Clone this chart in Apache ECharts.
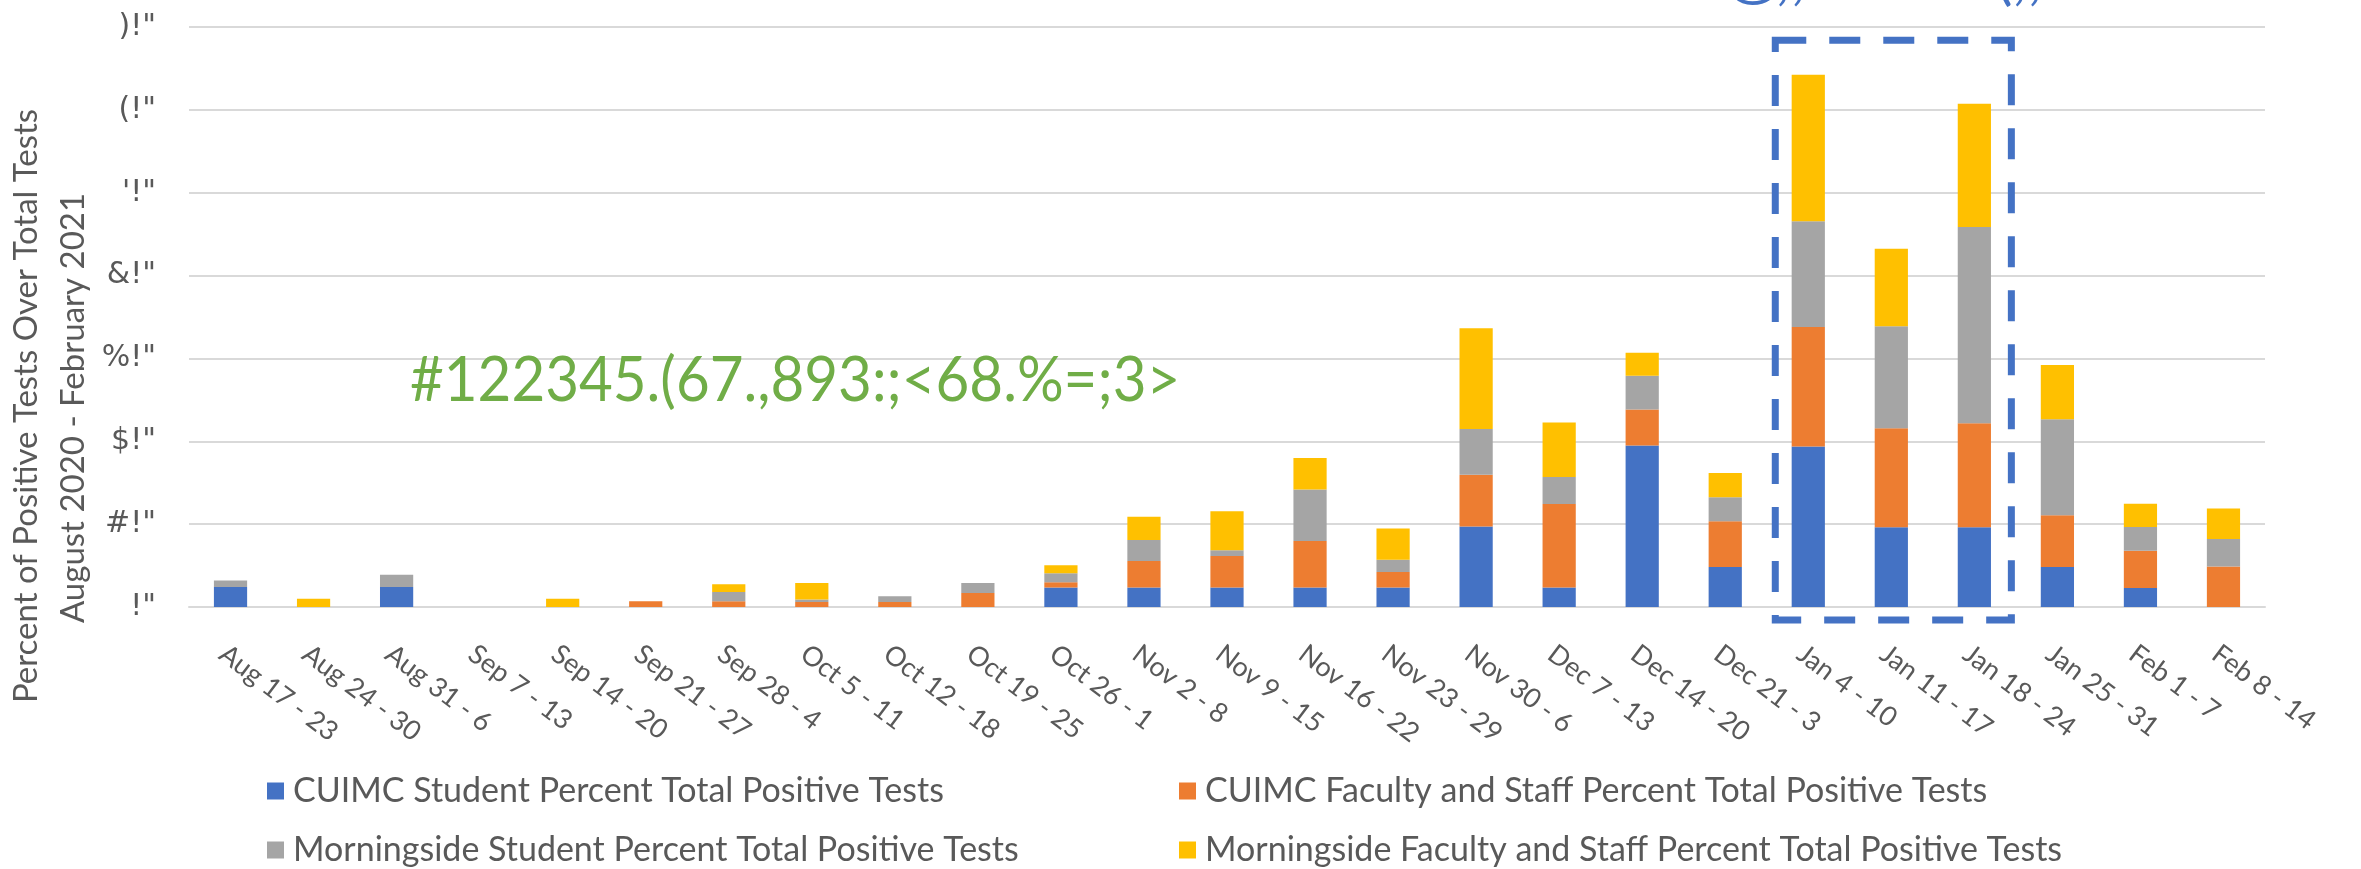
<!DOCTYPE html>
<html>
<head>
<meta charset="utf-8">
<script src="https://cdn.jsdelivr.net/npm/echarts/dist/echarts.min.js"></script>
<style>
  html, body { margin: 0; padding: 0; background: #fff; }
  #container { width: 2361px; height: 869px; }
</style>
</head>
<body>
<div id="container"></div>
<script>
var categories = ['Aug 17 - 23', 'Aug 24 - 30', 'Aug 31 - 6', 'Sep 7 - 13', 'Sep 14 - 20', 'Sep 21 - 27',
  'Sep 28 - 4', 'Oct 5 - 11', 'Oct 12 - 18', 'Oct 19 - 25', 'Oct 26 - 1', 'Nov 2 - 8', 'Nov 9 - 15',
  'Nov 16 - 22', 'Nov 23 - 29', 'Nov 30 - 6', 'Dec 7 - 13', 'Dec 14 - 20', 'Dec 21 - 3', 'Jan 4 - 10',
  'Jan 11 - 17', 'Jan 18 - 24', 'Jan 25 - 31', 'Feb 1 - 7', 'Feb 8 - 14']

var seriesNames = ['CUIMC Student Percent Total Positive Tests', 'CUIMC Faculty and Staff Percent Total Positive Tests',
  'Morningside Student Percent Total Positive Tests', 'Morningside Faculty and Staff Percent Total Positive Tests']

var cuimcStudent = [2.4, 0, 2.4, 0, 0, 0, 0, 0, 0, 0, 2.34, 2.34, 2.34, 2.34, 2.34, 9.72, 2.34, 19.48, 4.83,
  19.36, 9.61, 9.61, 4.83, 2.3, 0]
var cuimcStaff = [0, 0, 0, 0, 0, 0.69, 0.69, 0.6, 0.6, 1.7, 0.64, 3.22, 3.83, 5.64, 1.89, 6.25, 10.08, 4.35, 5.51,
  14.43, 11.97, 12.56, 6.25, 4.5, 4.9]
var msStudent = [0.81, 0, 1.49, 0, 0, 0, 1.12, 0.3, 0.7, 1.2, 1.09, 2.54, 0.68, 6.21, 1.46, 5.52, 3.27, 4.07, 2.91,
  12.76, 12.31, 23.69, 11.58, 2.85, 3.3]
var msStaff = [0, 1.0, 0, 0, 1.0, 0, 0.93, 2.0, 0, 0, 0.97, 2.79, 4.72, 3.79, 3.79, 12.14, 6.57, 2.79, 2.91,
  17.69, 9.36, 14.88, 6.55, 2.8, 3.7]

var yTickLabels = [' !"', '#!"', '$!"', '%!"', '&!"', '\'!"', '(!"', ')!"']

var colors = ['#4472C4', '#ED7D31', '#A5A5A5', '#FFC000']
var textColor = '#595959'
var font = 'Lato, "Open Sans", sans-serif'

var dom = document.getElementById('container')
var myChart = echarts.init(dom)

var legendPos = [[262, 769], [1174, 769], [262, 828], [1174, 828]]

var option = {
  backgroundColor: '#fff',
  animation: false,
  color: colors,
  grid: {
    left: 189,
    right: 96,
    top: 27,
    bottom: 262
  },
  legend: seriesNames.map(function(name, i) {
    return {
      data: [name],
      left: legendPos[i][0],
      top: legendPos[i][1],
      icon: 'rect',
      itemWidth: 17,
      itemHeight: 17,
      itemGap: 0,
      selectedMode: false,
      textStyle: {
        color: textColor,
        fontFamily: font,
        fontSize: 34,
        padding: [0, 0, 0, 4]
      }
    }
  }),
  xAxis: {
    type: 'category',
    data: categories,
    axisLine: { lineStyle: { color: '#D9D9D9', width: 2 } },
    axisTick: { show: false },
    axisLabel: {
      interval: 0,
      rotate: -37,
      margin: 33,
      verticalAlign: 'top',
      color: textColor,
      fontFamily: font,
      fontSize: 27
    }
  },
  yAxis: {
    type: 'value',
    min: 0,
    max: 70,
    interval: 10,
    axisLine: { show: false },
    axisTick: { show: false },
    splitLine: { lineStyle: { color: '#D9D9D9', width: 2 } },
    axisLabel: {
      margin: 33,
      color: textColor,
      fontFamily: '"DejaVu Sans", sans-serif',
      fontSize: 30,
      formatter: function(v) {
        return yTickLabels[Math.round(v / 10)]
      }
    }
  },
  series: [cuimcStudent, cuimcStaff, msStudent, msStaff].map(function(data, i) {
    return {
      name: seriesNames[i],
      type: 'bar',
      stack: 'total',
      barCategoryGap: '60%',
      data: data
    }
  })
}

myChart.setOption(option)

// annotations: axis title, green note, clipped blue note, dashed box
var xLeft = myChart.convertToPixel({ xAxisIndex: 0 }, 'Jan 4 - 10') - 33
var xRight = myChart.convertToPixel({ xAxisIndex: 0 }, 'Jan 18 - 24') + 37
var yTop = myChart.convertToPixel({ yAxisIndex: 0 }, 68.4)
var yBottom = myChart.convertToPixel({ yAxisIndex: 0 }, 0) + 13

myChart.setOption({
  graphic: [{
    type: 'text',
    x: 26,
    y: 406,
    rotation: Math.PI / 2,
    style: {
      text: 'Percent of Positive Tests Over Total Tests',
      fill: textColor,
      fontFamily: font,
      fontSize: 33,
      align: 'center',
      verticalAlign: 'middle'
    }
  }, {
    type: 'text',
    x: 73,
    y: 408,
    rotation: Math.PI / 2,
    style: {
      text: 'August 2020 - February 2021',
      fill: textColor,
      fontFamily: font,
      fontSize: 33,
      align: 'center',
      verticalAlign: 'middle'
    }
  }, {
    type: 'text',
    x: 410,
    y: 412,
    scaleX: 0.94,
    style: {
      text: '#122345.(67.,893:;<68.%=;3>',
      fill: '#70AD47',
      fontFamily: font,
      fontSize: 62,
      align: 'left',
      verticalAlign: 'bottom'
    }
  }, {
    type: 'text',
    x: 1688,
    y: 9,
    style: {
      text: '#@,;8AB<8(,;0=',
      fill: '#4472C4',
      fontFamily: font,
      fontSize: 62,
      align: 'left',
      verticalAlign: 'bottom'
    }
  }, {
    type: 'rect',
    shape: {
      x: xLeft,
      y: yTop,
      width: xRight - xLeft,
      height: yBottom - yTop
    },
    style: {
      fill: 'none',
      stroke: '#4472C4',
      lineWidth: 7,
      lineDash: [31, 23]
    },
    z: 10
  }]
})
</script>
</body>
</html>
